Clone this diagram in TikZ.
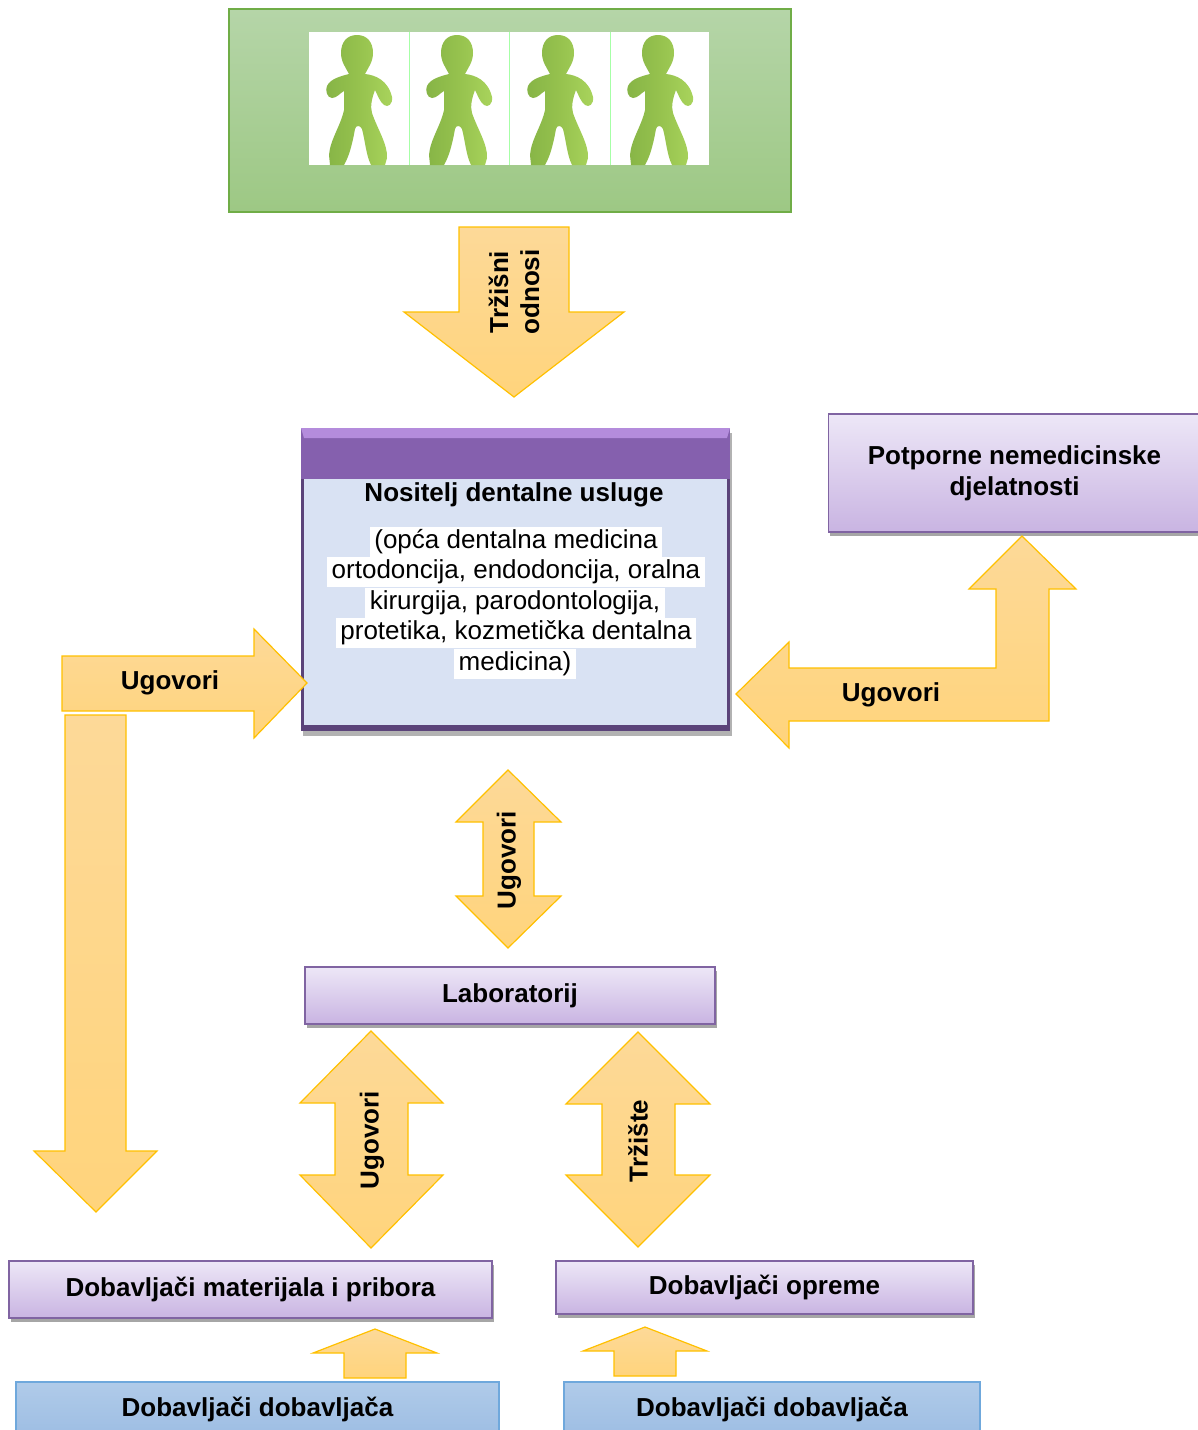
\documentclass[tikz,border=0pt]{standalone}
\usepackage{fontspec}
\setmainfont{Liberation Sans}
\usetikzlibrary{shadows}
\definecolor{arrowedge}{HTML}{FFC000}
\definecolor{arrowtop}{HTML}{FDD998}
\definecolor{arrowbot}{HTML}{FFD47C}
\definecolor{boxedge}{HTML}{8064A2}
\definecolor{boxtop}{HTML}{EDE7F7}
\definecolor{boxbot}{HTML}{C9B4E2}
\definecolor{blueedge}{HTML}{6FA8DC}
\definecolor{bluetop}{HTML}{B0CBE9}
\definecolor{bluebot}{HTML}{9DBDE3}
\definecolor{figleft}{HTML}{86B446}
\definecolor{figmid}{HTML}{96C24E}
\definecolor{figright}{HTML}{A9D45C}
\definecolor{marketedge}{HTML}{70AD47}
\definecolor{markettop}{HTML}{B5D5A8}
\definecolor{marketbot}{HTML}{9DC884}
\definecolor{mainbot}{HTML}{5B4379}
\definecolor{mainhead}{HTML}{8560AE}
\definecolor{mainlight}{HTML}{B48CDC}
\definecolor{mainbody}{HTML}{D9E2F3}
\newcommand{\boldfont}{\fontsize{26}{31}\selectfont\bfseries}
\newcommand{\plainfont}{\fontsize{26}{31}\selectfont}
\tikzset{
  box/.style={draw,line width=1.6pt,inner sep=0pt,align=center,font=\boldfont},
  purplebox/.style={box,draw=boxedge,top color=boxtop,bottom color=boxbot,
    drop shadow={shadow xshift=1.5pt,shadow yshift=-4pt,fill=black,opacity=.35}},
  bluebox/.style={box,draw=blueedge,top color=bluetop,bottom color=bluebot},
  blockarrow/.style={draw=arrowedge,line width=1.2pt,line join=miter,
    top color=arrowtop,bottom color=arrowbot},
  arrowlabel/.style={inner sep=0pt,align=center,font=\boldfont},
  hlline/.style={fill=white,inner ysep=0pt,inner xsep=4.5pt,font=\plainfont,
    text height=21.5pt,text depth=9pt},
  person/.pic={
    \path[left color=figleft,right color=figright,middle color=figmid]
      (0,35) .. controls (10,35) and (16,42) .. (16,53)
      .. controls (16,62) and (11,68) .. (8,74)
      .. controls (18,75) and (31,80) .. (35,97)
      .. controls (36,104) and (31,108) .. (27,105)
      .. controls (23,102) and (21,96) .. (18,90)
      .. controls (15,98) and (13,106) .. (15,113)
      .. controls (20,128) and (31,145) .. (30,158)
      -- (28,165) -- (14,165)
      .. controls (9,155) and (8,140) .. (5,129)
      .. controls (3,125) and (-1,125) .. (-2,129)
      .. controls (-4,140) and (-7,155) .. (-13,165)
      -- (-27,165) -- (-28,155)
      .. controls (-27,140) and (-16,125) .. (-13,110)
      -- (-13,91)
      .. controls (-17,93) and (-20,98) .. (-25,98)
      .. controls (-30,98) and (-32,90) .. (-30,86)
      .. controls (-27,79) and (-16,76) .. (-8,74)
      .. controls (-11,68) and (-16,62) .. (-16,53)
      .. controls (-16,42) and (-10,35) .. (0,35) -- cycle;
  }
}
\begin{document}
\begin{tikzpicture}[x=1pt,y=-1pt]
    \clip (0,0) rectangle (1198,1430);
    % patients
    \node[draw=marketedge,line width=1.2pt,inner sep=0pt,minimum width=562pt,minimum height=203pt,
          top color=markettop,bottom color=marketbot] (market) at (510,110.5) {};
    \node[fill=white,inner sep=0pt,minimum width=400pt,minimum height=133pt] (people) at (509,98.5) {};
    \foreach \px in {357,457,558,658}
        \pic at (\px,0) {person};
    \foreach \px in {409,509.5,610}
        \draw[green!35!white,line width=1pt] (\px,32) -- (\px,165);

    % main box
    \node[inner sep=0pt,minimum width=429pt,minimum height=303pt,fill=mainbot,
          drop shadow={shadow xshift=1.5pt,shadow yshift=-5pt,fill=black,opacity=.3}] (provider) at (515.5,579.5) {};
    \fill[mainhead] (301,428) rectangle (730,479);
    \fill[mainlight] (301,428) -- (730,428) -- (727,438) -- (304,438) -- cycle;
    \fill[mainbody] (304,479) rectangle (727,725);
    \node[arrowlabel] (providertitle) at (514,495) {Nositelj dentalne usluge};
    \node[hlline] (line1) at (516,542) {(opća dentalna medicina};
    \node[hlline] (line2) at (516,572) {ortodoncija, endodoncija, oralna};
    \node[hlline] (line3) at (515,603) {kirurgija, parodontologija,};
    \node[hlline] (line4) at (516,633) {protetika, kozmetička dentalna};
    \node[hlline] (line5) at (515,664) {medicina)};

    % boxes
    \node[purplebox,minimum width=372pt,minimum height=118pt] (support) at (1014.5,473) {Potporne nemedicinske\\djelatnosti};
    \node[purplebox,minimum width=410pt,minimum height=57pt] (lab) at (510,995.5) {Laboratorij};
    \node[purplebox,minimum width=483pt,minimum height=57pt] (materials) at (250.5,1289.5) {Dobavljači materijala i pribora};
    \node[purplebox,minimum width=417pt,minimum height=53pt] (equipment) at (764.5,1287.5) {Dobavljači opreme};
    \node[bluebox,minimum width=483pt,minimum height=55pt] (suppliers1) at (257.5,1409.5) {Dobavljači dobavljača};
    \node[bluebox,minimum width=416pt,minimum height=55pt] (suppliers2) at (772,1409.5) {Dobavljači dobavljača};

    % block arrows
    \path[blockarrow] (459,227) -- (569,227) -- (569,312) -- (624,312) -- (514,397)
        -- (404,312) -- (459,312) -- cycle;
    \path[blockarrow] (62,656) -- (254,656) -- (254,629) -- (307,683) -- (254,738)
        -- (254,711) -- (62,711) -- cycle;
    \path[blockarrow] (65,715) -- (126,715) -- (126,1151) -- (157,1151) -- (96,1212)
        -- (34,1151) -- (65,1151) -- cycle;
    \path[blockarrow] (736,694) -- (789,642) -- (789,668) -- (996,668) -- (996,589)
        -- (969,589) -- (1022,536) -- (1076,589) -- (1049,589) -- (1049,721)
        -- (789,721) -- (789,748) -- cycle;
    \path[blockarrow] (508,770) -- (561,822) -- (534,822) -- (534,896) -- (561,896)
        -- (508,948) -- (456,896) -- (483,896) -- (483,822) -- (456,822) -- cycle;
    \path[blockarrow] (371,1031) -- (443,1103) -- (408,1103) -- (408,1175) -- (443,1175)
        -- (371,1248) -- (300,1175) -- (335,1175) -- (335,1103) -- (300,1103) -- cycle;
    \path[blockarrow] (638,1032) -- (710,1104) -- (675,1104) -- (675,1175) -- (710,1175)
        -- (638,1247) -- (566,1175) -- (602,1175) -- (602,1104) -- (566,1104) -- cycle;
    \path[blockarrow] (375,1329) -- (437,1353) -- (406,1353) -- (406,1378) -- (344,1378)
        -- (344,1353) -- (313,1353) -- cycle;
    \path[blockarrow] (645,1327) -- (707,1351) -- (676,1351) -- (676,1376) -- (614,1376)
        -- (614,1351) -- (583,1351) -- cycle;

    % arrow labels
    \node[arrowlabel,rotate=90] (relations) at (514,292) {Tržišni\\odnosi};
    \node[arrowlabel] (contractsleft) at (170,683) {Ugovori};
    \node[arrowlabel] (contractsright) at (891,695) {Ugovori};
    \node[arrowlabel,rotate=90] (contractslab) at (509,860) {Ugovori};
    \node[arrowlabel,rotate=90] (contractsmat) at (372,1140) {Ugovori};
    \node[arrowlabel,rotate=90] (marketeq) at (638,1141) {Tržište};
\end{tikzpicture}
\end{document}
